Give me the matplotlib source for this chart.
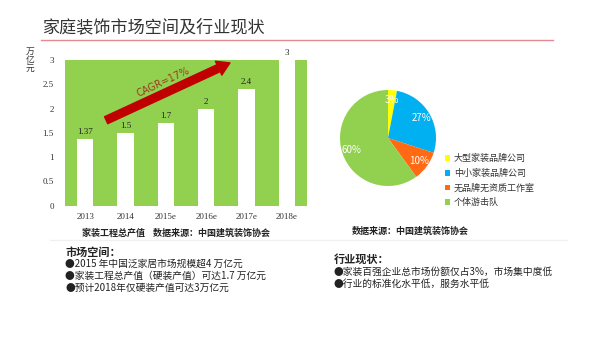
import numpy as np
import matplotlib
matplotlib.use("Agg")
import matplotlib.pyplot as plt
from matplotlib.lines import Line2D

plt.rcParams['font.family'] = ['Noto Sans CJK SC', 'DejaVu Sans']

years = ['2013', '2014', '2015e', '2016e', '2017e', '2018e']
output = [1.37, 1.5, 1.7, 2, 2.4, 3]
output_labels = ['1.37', '1.5', '1.7', '2', '2.4', '3']

share_names = ['大型家装品牌公司', '中小家装品牌公司', '无品牌无资质工作室', '个体游击队']
share_values = [3, 27, 10, 60]
share_colors = ['#FFFF00', '#00B0F0', '#FF6A13', '#92D050']

space_title = '市场空间：'
space_lines = ['●2015 年中国泛家居市场规模超4 万亿元',
               '●家装工程总产值（硬装产值）可达1.7 万亿元',
               '●预计2018年仅硬装产值可达3万亿元']
status_title = '行业现状：'
status_lines = ['●家装百强企业总市场份额仅占3%，市场集中度低',
                '●行业的标准化水平低，服务水平低']

W, H = 600, 337


def fx(px):
    return px / W


def fy(py):
    return 1 - py / H


fig = plt.figure(figsize=(6, 3.37), dpi=100)
fig.patch.set_facecolor('white')

# title and red rule
fig.text(fx(42), fy(27), '家庭装饰市场空间及行业现状', fontsize=12.3,
         color='#333333', va='center', ha='left')
fig.add_artist(Line2D([fx(41), fx(553)], [fy(40), fy(40)], color='#e58a92', lw=1.0))

# bar chart
ax = fig.add_axes([fx(65), fy(205.7), (307 - 65) / W, (205.7 - 60) / H])
ax.set_facecolor('#92D050')
x = np.arange(len(years))
ax.bar(x, output, width=0.4, color='white', zorder=2)
ax.set_xlim(-0.5, 5.5)
ax.set_ylim(0, 3)
for s in ax.spines.values():
    s.set_visible(False)
ax.set_xticks(x)
ax.set_xticklabels(years)
ax.set_yticks([0, 0.5, 1, 1.5, 2, 2.5, 3])
ax.set_yticklabels(['0', '0.5', '1', '1.5', '2', '2.5', '3'])
ax.tick_params(length=0, labelsize=6.5, colors='#333333')
ax.tick_params(axis='y', pad=8)
ax.tick_params(axis='x', pad=5)
for lab in ax.get_xticklabels() + ax.get_yticklabels():
    lab.set_family('Liberation Serif')
for xi, v, t in zip(x, output, output_labels):
    ax.text(xi, v + 0.06, t, ha='center', va='bottom', fontsize=6.5,
            family='Liberation Serif', color='#222222', clip_on=False)

# growth arrow
ax.annotate('', xy=(3.59, 2.94), xytext=(0.52, 1.76),
            arrowprops=dict(arrowstyle='simple,head_width=1.1,head_length=0.9,tail_width=0.55',
                            color='#C00000', mutation_scale=10, shrinkA=0, shrinkB=0),
            annotation_clip=False)
fig.text(fx(163), fy(82), 'CAGR=17%', fontsize=7, color='#9C3B1A',
         rotation=25, ha='center', va='center', family='DejaVu Sans')

fig.text(fx(30), fy(60), '万\n亿\n元', fontsize=6.3, color='#333333',
         ha='center', va='center', linespacing=0.9)
fig.text(fx(176), fy(233), '家装工程总产值    数据来源：中国建筑装饰协会',
         fontsize=6.5, fontweight='bold', color='#222222', ha='center', va='center')

# pie chart
pax = fig.add_axes([fx(328), fy(198), 120 / W, 120 / H])
wedges, _, autotexts = pax.pie(share_values, colors=share_colors, startangle=90,
                               counterclock=False, autopct='%d%%', pctdistance=0.8,
                               textprops=dict(color='white', fontsize=7))
pax.set_aspect('equal')
pax.legend(wedges, share_names, loc='upper left',
           bbox_to_anchor=(fx(445), fy(154)), bbox_transform=fig.transFigure,
           frameon=False, fontsize=6.5, handlelength=0.6, handleheight=0.6,
           handletextpad=0.4, labelspacing=0.62, borderpad=0, borderaxespad=0,
           labelcolor='#333333')
fig.text(fx(410), fy(231), '数据来源：中国建筑装饰协会', fontsize=6.5,
         fontweight='bold', color='#222222', ha='center', va='center')

# faint divider
fig.add_artist(Line2D([fx(50), fx(567)], [fy(240), fy(240)], color='#f0f0f0', lw=1.0))

# notes
fig.text(fx(65), fy(252), space_title, fontsize=8, fontweight='bold',
         color='#222222', ha='left', va='center')
for i, line in enumerate(space_lines):
    fig.text(fx(65), fy(264 + 12 * i), line, fontsize=7, color='#222222',
             ha='left', va='center')
fig.text(fx(334), fy(259), status_title, fontsize=8, fontweight='bold',
         color='#222222', ha='left', va='center')
for i, line in enumerate(status_lines):
    fig.text(fx(334), fy(272 + 11.5 * i), line, fontsize=7, color='#222222',
             ha='left', va='center')

fig.savefig('out.png', dpi=100, facecolor='white')
